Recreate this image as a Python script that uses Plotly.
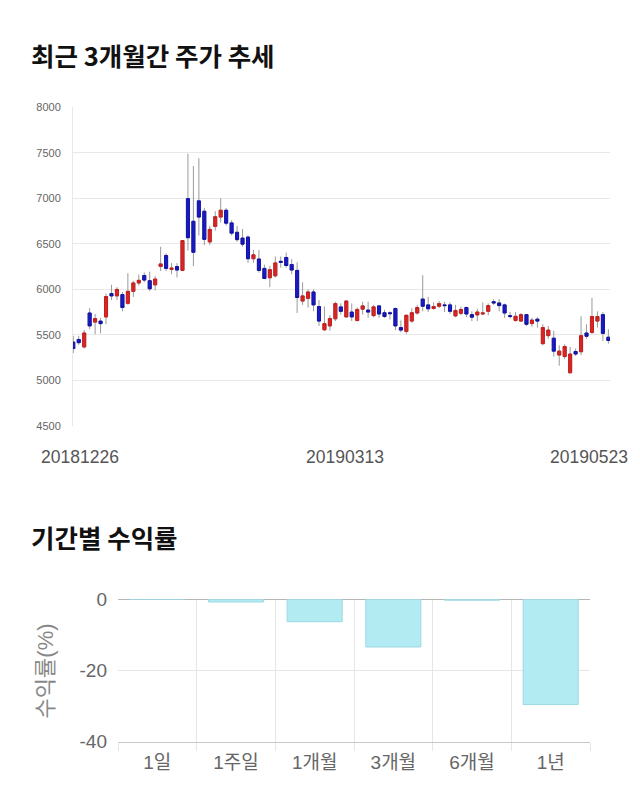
import pandas as pd
import plotly.graph_objects as go

# ---------------- data ----------------
holidays = ["2018-12-31", "2019-01-01", "2019-02-04", "2019-02-05", "2019-02-06",
            "2019-03-01", "2019-05-01", "2019-05-06"]
trade_days = [d for d in pd.bdate_range("2018-12-26", "2019-05-23")
              if d.strftime("%Y-%m-%d") not in holidays]
dates = [d.strftime("%Y%m%d") for d in trade_days]

opens = [5421, 5450, 5368, 5741, 5641, 5652, 5698, 5954, 5929, 5943,
         5847, 5979, 6071, 6153, 6096, 6050, 6252, 6373, 6220, 6252,
         6209, 6998, 6749, 6973, 6859, 6522, 6692, 6795, 6870, 6731,
         6628, 6564, 6575, 6337, 6334, 6231, 6128, 6149, 6309, 6351,
         6273, 6209, 5872, 5901, 5972, 5812, 5556, 5599, 5677, 5808,
         5698, 5751, 5659, 5783, 5773, 5712, 5819, 5744, 5744, 5790,
         5581, 5539, 5652, 5741, 5894, 5830, 5790, 5815, 5830, 5830,
         5709, 5737, 5801, 5723, 5720, 5730, 5759, 5865, 5851, 5830,
         5712, 5659, 5652, 5723, 5624, 5673, 5404, 5492, 5464, 5279,
         5262, 5084, 5318, 5315, 5521, 5528, 5652, 5723, 5475]
highs = [5490, 5490, 5553, 5794, 5730, 5688, 5954, 6050, 6025, 5972,
         6178, 6096, 6163, 6185, 6195, 6149, 6469, 6398, 6290, 6290,
         6540, 7491, 7356, 7441, 6895, 6699, 6859, 7001, 6895, 6760,
         6699, 6664, 6593, 6433, 6433, 6273, 6256, 6362, 6362, 6405,
         6334, 6298, 6078, 6000, 6000, 5883, 5812, 5716, 5865, 5847,
         5883, 5847, 5801, 5865, 5865, 5830, 5830, 5776, 5759, 5801,
         5659, 5723, 5794, 5830, 6156, 5918, 5858, 5872, 5865, 5858,
         5830, 5812, 5812, 5759, 5787, 5858, 5847, 5894, 5894, 5844,
         5752, 5752, 5741, 5730, 5688, 5695, 5617, 5599, 5546, 5386,
         5397, 5368, 5350, 5705, 5617, 5908, 5759, 5751, 5563]
lows = [5300, 5390, 5350, 5563, 5510, 5517, 5617, 5883, 5883, 5759,
        5830, 5918, 6043, 6078, 5982, 5989, 6202, 6202, 6167, 6131,
        6202, 6426, 6256, 6593, 6486, 6486, 6646, 6735, 6700, 6593,
        6522, 6469, 6291, 6291, 6184, 6114, 6025, 6131, 6238, 6238,
        6167, 5741, 5830, 5801, 5759, 5599, 5546, 5546, 5652, 5723,
        5688, 5652, 5645, 5723, 5688, 5695, 5688, 5688, 5670, 5553,
        5528, 5510, 5634, 5723, 5759, 5752, 5776, 5794, 5752, 5730,
        5695, 5716, 5695, 5652, 5652, 5716, 5716, 5830, 5759, 5688,
        5680, 5645, 5645, 5599, 5588, 5581, 5386, 5457, 5262, 5162,
        5233, 5077, 5269, 5279, 5457, 5510, 5581, 5432, 5404]
closes = [5350, 5415, 5521, 5599, 5680, 5624, 5922, 5929, 6000, 5801,
          5979, 6071, 6100, 6103, 6007, 6114, 6280, 6231, 6235, 6213,
          6536, 6568, 6408, 6795, 6550, 6660, 6799, 6870, 6728, 6618,
          6547, 6497, 6337, 6380, 6209, 6121, 6217, 6291, 6298, 6263,
          6213, 5911, 5929, 5972, 5830, 5652, 5624, 5680, 5844, 5759,
          5872, 5698, 5780, 5819, 5751, 5808, 5730, 5702, 5734, 5599,
          5553, 5716, 5744, 5801, 5815, 5787, 5812, 5844, 5822, 5759,
          5769, 5780, 5730, 5695, 5752, 5741, 5822, 5851, 5822, 5741,
          5702, 5705, 5723, 5617, 5663, 5652, 5581, 5553, 5322, 5322,
          5372, 5290, 5290, 5492, 5485, 5702, 5702, 5517, 5439]

date_ticks = ["20181226", "20190313", "20190523"]

periods = ["1일", "1주일", "1개월", "3개월", "6개월", "1년"]
returns = [0.0, -0.75, -6.3, -13.4, -0.25, -29.6]
return_ticks = [0, -20, -40]
return_tick_text = ["0", "-20", "-40"]

# ---------------- figure ----------------
W, H = 640, 810
def px_x(p): return p / W
def px_y(p): return 1 - p / H

body_hi = [max(o, c) for o, c in zip(opens, closes)]
body_lo = [min(o, c) for o, c in zip(opens, closes)]

fig = go.Figure()

# wicks (gray)
wick_style = dict(line=dict(color="#9a9a9a", width=1), fillcolor="rgba(0,0,0,0)")
fig.add_trace(go.Candlestick(
    x=dates, open=opens, high=highs, low=lows, close=closes,
    increasing=wick_style, decreasing=wick_style, whiskerwidth=0,
    hoverinfo="skip", showlegend=False, xaxis="x", yaxis="y"))

# bodies (red up / blue down)
fig.add_trace(go.Candlestick(
    x=dates, open=opens, high=body_hi, low=body_lo, close=closes,
    increasing=dict(line=dict(color="#c81e1e", width=1), fillcolor="#d62626"),
    decreasing=dict(line=dict(color="#1212a8", width=1), fillcolor="#1a1ac4"),
    whiskerwidth=0, hoverinfo="skip", showlegend=False, xaxis="x", yaxis="y"))

# returns bars
fig.add_trace(go.Bar(
    x=periods, y=returns, width=0.7,
    marker=dict(color="#b3ebf3", line=dict(color="#9cd8e3", width=1)),
    hoverinfo="skip", showlegend=False, xaxis="x2", yaxis="y2"))

font_family = "Liberation Sans, Arial, Noto Sans CJK KR, sans-serif"

fig.update_layout(
    width=W, height=H,
    margin=dict(l=0, r=0, t=0, b=0),
    paper_bgcolor="white", plot_bgcolor="white",
    font=dict(family=font_family),
    boxgap=0.2,
    xaxis=dict(domain=[px_x(73), px_x(610)], type="category",
               range=[-0.05, 98.3], showticklabels=False, showgrid=False,
               zeroline=False, rangeslider=dict(visible=False), fixedrange=True),
    yaxis=dict(domain=[px_y(427), px_y(100)], range=[4500, 8000], dtick=500,
               gridcolor="#e8e8e8", gridwidth=1, zeroline=False,
               showline=True, linecolor="#e8e8e8", linewidth=1,
               tickfont=dict(size=11, color="#666"), ticklabelstandoff=9,
               fixedrange=True),
    xaxis2=dict(domain=[px_x(118), px_x(590)], type="category", anchor="y2",
                tickson="boundaries", showgrid=True, gridcolor="#e6e6e6",
                ticks="outside", ticklen=8, tickcolor="#e6e6e6",
                showline=True, linecolor="#c8c8c8", linewidth=1,
                ticklabelstandoff=4,
                tickfont=dict(size=19, color="#666"), fixedrange=True),
    yaxis2=dict(domain=[px_y(751), px_y(605)], anchor="x2", range=[-40, 0],
                tickvals=return_ticks, ticktext=return_tick_text,
                gridcolor="#e6e6e6", zeroline=True, zerolinecolor="#b5b5b5",
                zerolinewidth=1, tickfont=dict(size=19, color="#666"),
                ticklabelstandoff=10, fixedrange=True),
)

annotations = [
    dict(text="<b>최근 3개월간 주가 추세</b>", xref="paper", yref="paper",
         x=px_x(29), y=px_y(46), xanchor="left", yanchor="middle", showarrow=False,
         font=dict(size=25.5, color="#111", family="Noto Sans CJK KR")),
    dict(text="<b>기간별 수익률</b>", xref="paper", yref="paper",
         x=px_x(29), y=px_y(540), xanchor="left", yanchor="middle", showarrow=False,
         font=dict(size=25.5, color="#111", family="Noto Sans CJK KR")),
    dict(text="수익률(%)", xref="paper", yref="paper", textangle=-90,
         x=px_x(45), y=px_y(679), xanchor="center", yanchor="middle", showarrow=False,
         font=dict(size=22, color="#888", family=font_family)),
]
shifts = [7, 4, -19]
for d, s in zip(date_ticks, shifts):
    annotations.append(dict(text=d, xref="x", yref="paper", x=dates.index(d), y=px_y(459),
                            xanchor="center", yanchor="middle", xshift=s,
                            showarrow=False, font=dict(size=17.5, color="#555")))
fig.update_layout(annotations=annotations)

fig.write_html("out.html", config={"displayModeBar": False})
